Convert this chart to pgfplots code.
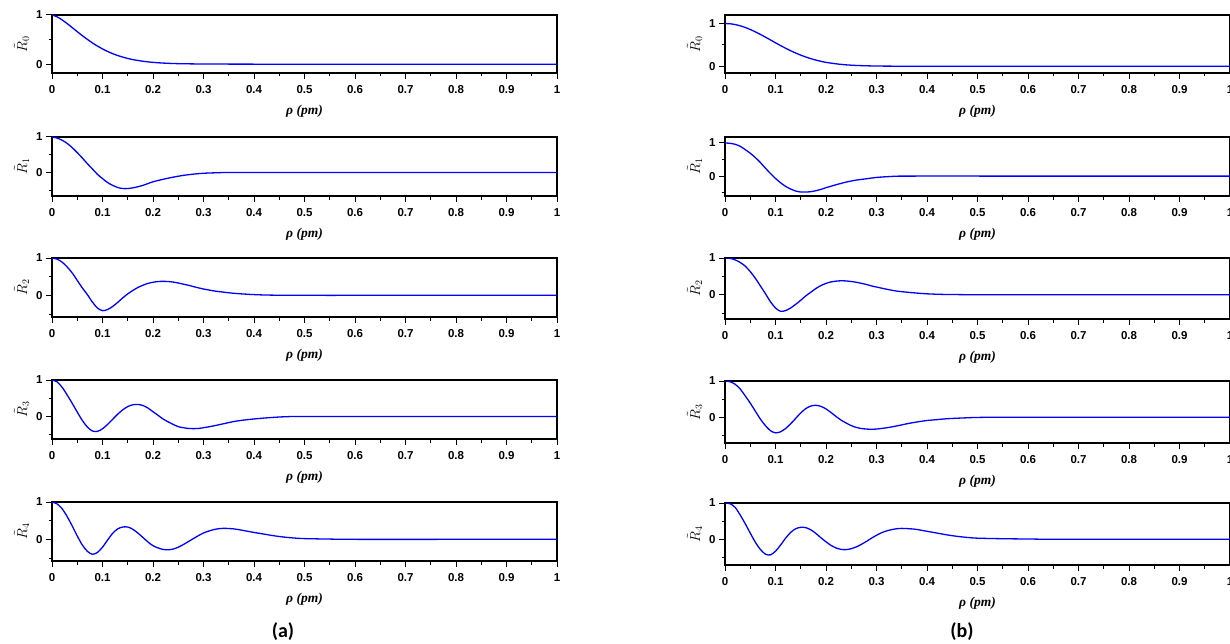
\documentclass[border=0pt]{standalone}
\usepackage{fontspec}
\setmainfont{Liberation Sans}
\newfontfamily\labelfont{Liberation Serif}
\newfontfamily\capfont{Carlito}
\usepackage{pgfplots}
\pgfplotsset{compat=1.18}

\pgfplotsset{
  panel/.style={
    anchor=north west, scale only axis, width=505pt,
    xmin=0, xmax=1, ymax=1,
    xtick={0,0.1,0.2,0.3,0.4,0.5,0.6,0.7,0.8,0.9,1},
    minor xtick={0.05,0.15,0.25,0.35,0.45,0.55,0.65,0.75,0.85,0.95},
    ytick={0,1}, minor ytick={-0.5,0.5},
    xtick pos=bottom, ytick pos=left, tick align=outside,
    major tick length=6pt, minor tick length=3.5pt,
    every tick/.style={black, line width=1pt},
    axis line style={line width=1.3pt},
    /pgf/number format/.cd, fixed, precision=1, assume math mode=true, /pgfplots/.cd,
    ticklabel style={font=\fontsize{11.5}{13}\selectfont\bfseries},
    xticklabel style={yshift=-3pt},
    xlabel={\labelfont\bfseries\itshape ρ (pm)},
    xlabel style={font=\fontsize{13.5}{15}\selectfont, yshift=-5pt},
    ylabel style={font=\fontsize{14.5}{16}\selectfont, xshift=0pt},
  },
  curve/.style={blue, line width=1.3pt, no markers, smooth},
}

\begin{document}
\begin{tikzpicture}
\useasboundingbox (0pt,0pt) rectangle (1230pt,-644pt);

% ---------- column (a) ----------
\begin{axis}[panel, at={(52pt,-15pt)}, height=58pt, ymin=-0.18, ylabel={$\tilde{R}_0$}]
\addplot[curve] coordinates {(0,1)(0.01,0.964)(0.02,0.90)(0.03,0.825)(0.04,0.744)(0.05,0.661)(0.06,0.58)(0.07,0.504)(0.08,0.433)(0.09,0.368)(0.10,0.31)(0.11,0.259)(0.12,0.214)(0.13,0.176)(0.14,0.144)(0.15,0.116)(0.16,0.093)(0.17,0.075)(0.18,0.059)(0.20,0.036)(0.22,0.022)(0.25,0.01)(0.30,0.003)(0.35,0.001)(0.40,0)(0.6,0)(0.8,0)(1,0)};
\end{axis}

\begin{axis}[panel, at={(52pt,-137pt)}, height=59pt, ymin=-0.66, ylabel={$\tilde{R}_1$}]
\addplot[curve] coordinates {(0,1)(0.01,0.97)(0.02,0.91)(0.03,0.82)(0.04,0.70)(0.05,0.56)(0.06,0.41)(0.07,0.25)(0.08,0.10)(0.09,-0.05)(0.10,-0.17)(0.11,-0.28)(0.12,-0.36)(0.13,-0.42)(0.14,-0.45)(0.15,-0.45)(0.16,-0.43)(0.17,-0.40)(0.18,-0.36)(0.19,-0.31)(0.20,-0.26)(0.22,-0.19)(0.24,-0.13)(0.26,-0.08)(0.28,-0.045)(0.30,-0.02)(0.33,-0.005)(0.36,0)(0.6,0)(0.8,0)(1,0)};
\end{axis}

\begin{axis}[panel, at={(52pt,-258pt)}, height=59pt, ymin=-0.58, ylabel={$\tilde{R}_2$}]
\addplot[curve] coordinates {(0,1)(0.01,0.97)(0.02,0.89)(0.03,0.76)(0.04,0.60)(0.05,0.40)(0.06,0.20)(0.07,0.02)(0.08,-0.18)(0.09,-0.34)(0.10,-0.41)(0.11,-0.38)(0.12,-0.30)(0.13,-0.19)(0.14,-0.07)(0.15,0.04)(0.16,0.13)(0.17,0.21)(0.18,0.27)(0.19,0.32)(0.20,0.35)(0.21,0.37)(0.22,0.375)(0.23,0.37)(0.24,0.355)(0.25,0.33)(0.26,0.30)(0.27,0.27)(0.28,0.235)(0.29,0.20)(0.30,0.17)(0.32,0.12)(0.34,0.085)(0.36,0.055)(0.38,0.035)(0.40,0.02)(0.42,0.01)(0.45,0.003)(0.5,0)(0.7,0)(1,0)};
\end{axis}

\begin{axis}[panel, at={(52pt,-380pt)}, height=59pt, ymin=-0.62, ylabel={$\tilde{R}_3$}]
\addplot[curve] coordinates {(0,1)(0.01,0.95)(0.02,0.80)(0.03,0.59)(0.04,0.36)(0.05,0.12)(0.06,-0.11)(0.07,-0.29)(0.08,-0.40)(0.09,-0.41)(0.10,-0.34)(0.11,-0.22)(0.12,-0.08)(0.13,0.06)(0.14,0.18)(0.15,0.27)(0.16,0.32)(0.17,0.33)(0.18,0.30)(0.19,0.23)(0.20,0.13)(0.21,0.03)(0.22,-0.07)(0.23,-0.15)(0.24,-0.22)(0.25,-0.28)(0.26,-0.31)(0.27,-0.33)(0.28,-0.335)(0.29,-0.33)(0.30,-0.31)(0.32,-0.26)(0.34,-0.20)(0.36,-0.14)(0.38,-0.10)(0.40,-0.07)(0.42,-0.045)(0.44,-0.025)(0.46,-0.01)(0.50,0)(0.7,0)(1,0)};
\end{axis}

\begin{axis}[panel, at={(52pt,-502pt)}, height=59pt, ymin=-0.58, ylabel={$\tilde{R}_4$}]
\addplot[curve] coordinates {(0,1)(0.01,0.95)(0.02,0.82)(0.03,0.61)(0.04,0.36)(0.05,0.09)(0.06,-0.15)(0.07,-0.32)(0.08,-0.40)(0.09,-0.35)(0.10,-0.21)(0.11,-0.02)(0.12,0.16)(0.13,0.28)(0.14,0.33)(0.15,0.33)(0.16,0.27)(0.17,0.17)(0.18,0.05)(0.19,-0.07)(0.20,-0.17)(0.21,-0.23)(0.22,-0.27)(0.23,-0.28)(0.24,-0.26)(0.25,-0.21)(0.26,-0.14)(0.27,-0.06)(0.28,0.02)(0.29,0.10)(0.30,0.17)(0.31,0.22)(0.32,0.26)(0.33,0.285)(0.34,0.295)(0.35,0.29)(0.36,0.28)(0.37,0.26)(0.38,0.235)(0.40,0.185)(0.42,0.14)(0.44,0.095)(0.46,0.06)(0.48,0.035)(0.50,0.02)(0.55,0.007)(0.60,0)(0.8,0)(1,0)};
\end{axis}

% ---------- column (b) ----------
\begin{axis}[panel, at={(725pt,-15pt)}, height=58pt, ymin=-0.16, ymax=1.2, ylabel={$\tilde{R}_0$}]
\addplot[curve] coordinates {(0,1)(0.01,0.994)(0.02,0.976)(0.03,0.947)(0.04,0.908)(0.05,0.86)(0.06,0.805)(0.07,0.745)(0.08,0.681)(0.09,0.615)(0.10,0.548)(0.11,0.483)(0.12,0.421)(0.13,0.362)(0.14,0.308)(0.15,0.259)(0.16,0.215)(0.17,0.176)(0.18,0.143)(0.19,0.114)(0.20,0.09)(0.22,0.055)(0.24,0.031)(0.26,0.017)(0.28,0.009)(0.30,0.004)(0.35,0)(0.6,0)(0.8,0)(1,0)};
\end{axis}

\begin{axis}[panel, at={(725pt,-137pt)}, height=59pt, ymin=-0.6, ymax=1.18, ylabel={$\tilde{R}_1$}]
\addplot[curve] coordinates {(0,1)(0.01,0.99)(0.02,0.96)(0.03,0.90)(0.04,0.80)(0.05,0.69)(0.06,0.56)(0.07,0.41)(0.08,0.24)(0.09,0.08)(0.10,-0.07)(0.11,-0.20)(0.12,-0.31)(0.13,-0.39)(0.14,-0.45)(0.15,-0.48)(0.16,-0.48)(0.17,-0.47)(0.18,-0.44)(0.19,-0.40)(0.20,-0.35)(0.22,-0.26)(0.24,-0.18)(0.26,-0.12)(0.28,-0.08)(0.30,-0.04)(0.33,-0.01)(0.36,0)(0.6,0)(0.8,0)(1,0)};
\end{axis}

\begin{axis}[panel, at={(725pt,-258pt)}, height=61pt, ymin=-0.66, ylabel={$\tilde{R}_2$}]
\addplot[curve] coordinates {(0,1)(0.01,0.99)(0.02,0.95)(0.03,0.88)(0.04,0.78)(0.05,0.63)(0.06,0.45)(0.07,0.24)(0.08,0.03)(0.09,-0.19)(0.10,-0.36)(0.11,-0.45)(0.12,-0.43)(0.13,-0.36)(0.14,-0.26)(0.15,-0.15)(0.16,-0.03)(0.17,0.07)(0.18,0.17)(0.19,0.25)(0.20,0.31)(0.21,0.35)(0.22,0.37)(0.23,0.38)(0.24,0.375)(0.25,0.36)(0.26,0.34)(0.27,0.31)(0.28,0.28)(0.29,0.24)(0.30,0.21)(0.32,0.15)(0.34,0.10)(0.36,0.07)(0.38,0.045)(0.40,0.025)(0.43,0.01)(0.47,0.003)(0.5,0)(0.7,0)(1,0)};
\end{axis}

\begin{axis}[panel, at={(725pt,-381pt)}, height=62pt, ymin=-0.71, ylabel={$\tilde{R}_3$}]
\addplot[curve] coordinates {(0,1)(0.01,0.98)(0.02,0.91)(0.03,0.78)(0.04,0.59)(0.05,0.39)(0.06,0.17)(0.07,-0.05)(0.08,-0.23)(0.09,-0.37)(0.10,-0.43)(0.11,-0.40)(0.12,-0.31)(0.13,-0.18)(0.14,-0.03)(0.15,0.12)(0.16,0.24)(0.17,0.31)(0.18,0.33)(0.19,0.30)(0.20,0.23)(0.21,0.13)(0.22,0.02)(0.23,-0.08)(0.24,-0.16)(0.25,-0.23)(0.26,-0.28)(0.27,-0.31)(0.28,-0.325)(0.29,-0.33)(0.30,-0.325)(0.32,-0.29)(0.34,-0.24)(0.36,-0.18)(0.38,-0.13)(0.40,-0.09)(0.42,-0.065)(0.44,-0.04)(0.47,-0.02)(0.50,-0.005)(0.55,0)(0.8,0)(1,0)};
\end{axis}

\begin{axis}[panel, at={(725pt,-503pt)}, height=62pt, ymin=-0.71, ylabel={$\tilde{R}_4$}]
\addplot[curve] coordinates {(0,1)(0.01,0.98)(0.02,0.88)(0.03,0.67)(0.04,0.43)(0.05,0.17)(0.06,-0.08)(0.07,-0.28)(0.08,-0.41)(0.09,-0.43)(0.10,-0.33)(0.11,-0.16)(0.12,0.03)(0.13,0.19)(0.14,0.29)(0.15,0.33)(0.16,0.32)(0.17,0.26)(0.18,0.16)(0.19,0.04)(0.20,-0.07)(0.21,-0.17)(0.22,-0.24)(0.23,-0.28)(0.24,-0.285)(0.25,-0.26)(0.26,-0.21)(0.27,-0.14)(0.28,-0.06)(0.29,0.03)(0.30,0.11)(0.31,0.18)(0.32,0.23)(0.33,0.265)(0.34,0.29)(0.35,0.30)(0.36,0.295)(0.37,0.285)(0.38,0.27)(0.40,0.22)(0.42,0.17)(0.44,0.12)(0.46,0.08)(0.48,0.05)(0.50,0.03)(0.55,0.015)(0.60,0.007)(0.65,0)(0.8,0)(1,0)};
\end{axis}

\node[font=\capfont\bfseries\fontsize{20}{24}\selectfont] at (283pt,-632pt) {(a)};
\node[font=\capfont\bfseries\fontsize{20}{24}\selectfont] at (962pt,-632pt) {(b)};
\end{tikzpicture}
\end{document}
